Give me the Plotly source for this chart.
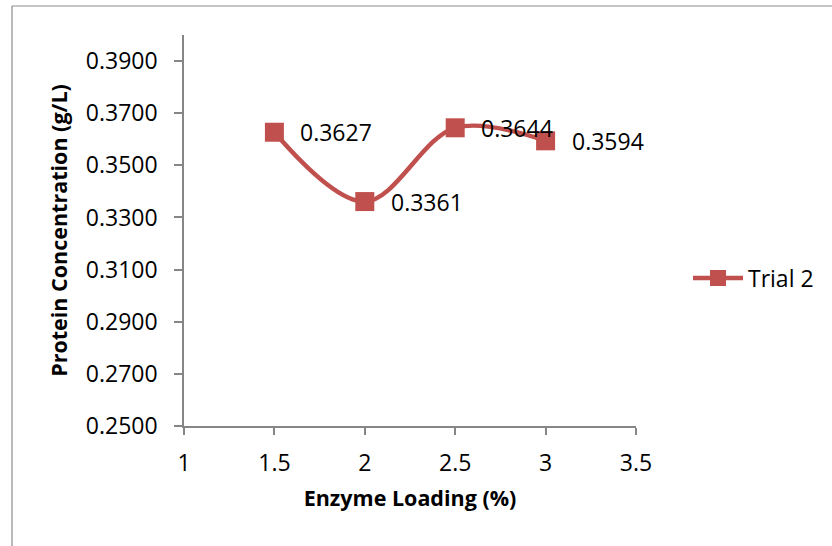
import plotly.graph_objects as go

enzyme_loading = [1.5, 2.0, 2.5, 3.0]
protein_conc = [0.3627, 0.3361, 0.3644, 0.3594]
value_labels = ["0.3627", "0.3361", "0.3644", "0.3594"]
x_ticks = [1, 1.5, 2, 2.5, 3, 3.5]
x_tick_text = ["1", "1.5", "2", "2.5", "3", "3.5"]
y_ticks = [0.25, 0.27, 0.29, 0.31, 0.33, 0.35, 0.37, 0.39]
y_tick_text = ["0.2500", "0.2700", "0.2900", "0.3100", "0.3300", "0.3500", "0.3700", "0.3900"]

RED = "#C0504D"
AX = "#868686"
FONT = "Open Sans"
FS = 23

fig = go.Figure()
fig.add_trace(go.Scatter(
    x=enzyme_loading, y=protein_conc, mode="lines+markers",
    name="Trial 2",
    line=dict(color=RED, width=4.5, shape="spline", smoothing=1.0),
    marker=dict(symbol="square", size=19, color=RED),
))
for xv, yv, t in zip(enzyme_loading, protein_conc, value_labels):
    fig.add_annotation(x=xv, y=yv, text=t, showarrow=False, xanchor="left",
                       yanchor="middle", xshift=24, yshift=0,
                       font=dict(family=FONT, size=FS, color="#000"))

L, R, T, B = 184, 196, 35, 120
W, H = 832, 546
pw, ph = W - L - R, H - T - B

def px(xpix):
    return (xpix - L) / pw

def py(ypix):
    return (H - B - ypix) / ph

# outer chart border
fig.add_shape(type="line", xref="paper", yref="paper", x0=px(12), x1=px(12), y0=py(6), y1=py(560),
              line=dict(color="#8c8c8c", width=1.2))
fig.add_shape(type="line", xref="paper", yref="paper", x0=px(12), x1=px(840), y0=py(6), y1=py(6),
              line=dict(color="#8c8c8c", width=1.2))

fig.update_layout(
    width=W, height=H,
    margin=dict(l=L, r=R, t=T, b=B),
    paper_bgcolor="white", plot_bgcolor="white",
    font=dict(family=FONT, size=FS, color="#000"),
    showlegend=True,
    legend=dict(x=px(688), y=py(278), xanchor="left", yanchor="middle",
                font=dict(family=FONT, size=FS, color="#000"), bgcolor="rgba(0,0,0,0)",
                itemwidth=50),
    xaxis=dict(range=[1, 3.5], tickvals=x_ticks, ticktext=x_tick_text,
               showgrid=False, zeroline=False, showline=True, linecolor=AX, linewidth=1.5,
               ticks="outside", tickcolor=AX, ticklen=7, tickwidth=1.5,
               ticklabelstandoff=9,
               tickfont=dict(family=FONT, size=FS),
               title=dict(text="<b>Enzyme Loading (%)</b>", font=dict(family=FONT, size=21.5), standoff=14)),
    yaxis=dict(range=[0.25, 0.40], tickvals=y_ticks, ticktext=y_tick_text,
               showgrid=False, zeroline=False, showline=True, linecolor=AX, linewidth=1.5,
               ticks="outside", tickcolor=AX, ticklen=8, tickwidth=1.5,
               ticklabelstandoff=12,
               tickfont=dict(family=FONT, size=FS),
               title=dict(text="<b>Protein Concentration (g/L)</b>", font=dict(family=FONT, size=21.5), standoff=12)),
)

fig.write_html("out.html")
